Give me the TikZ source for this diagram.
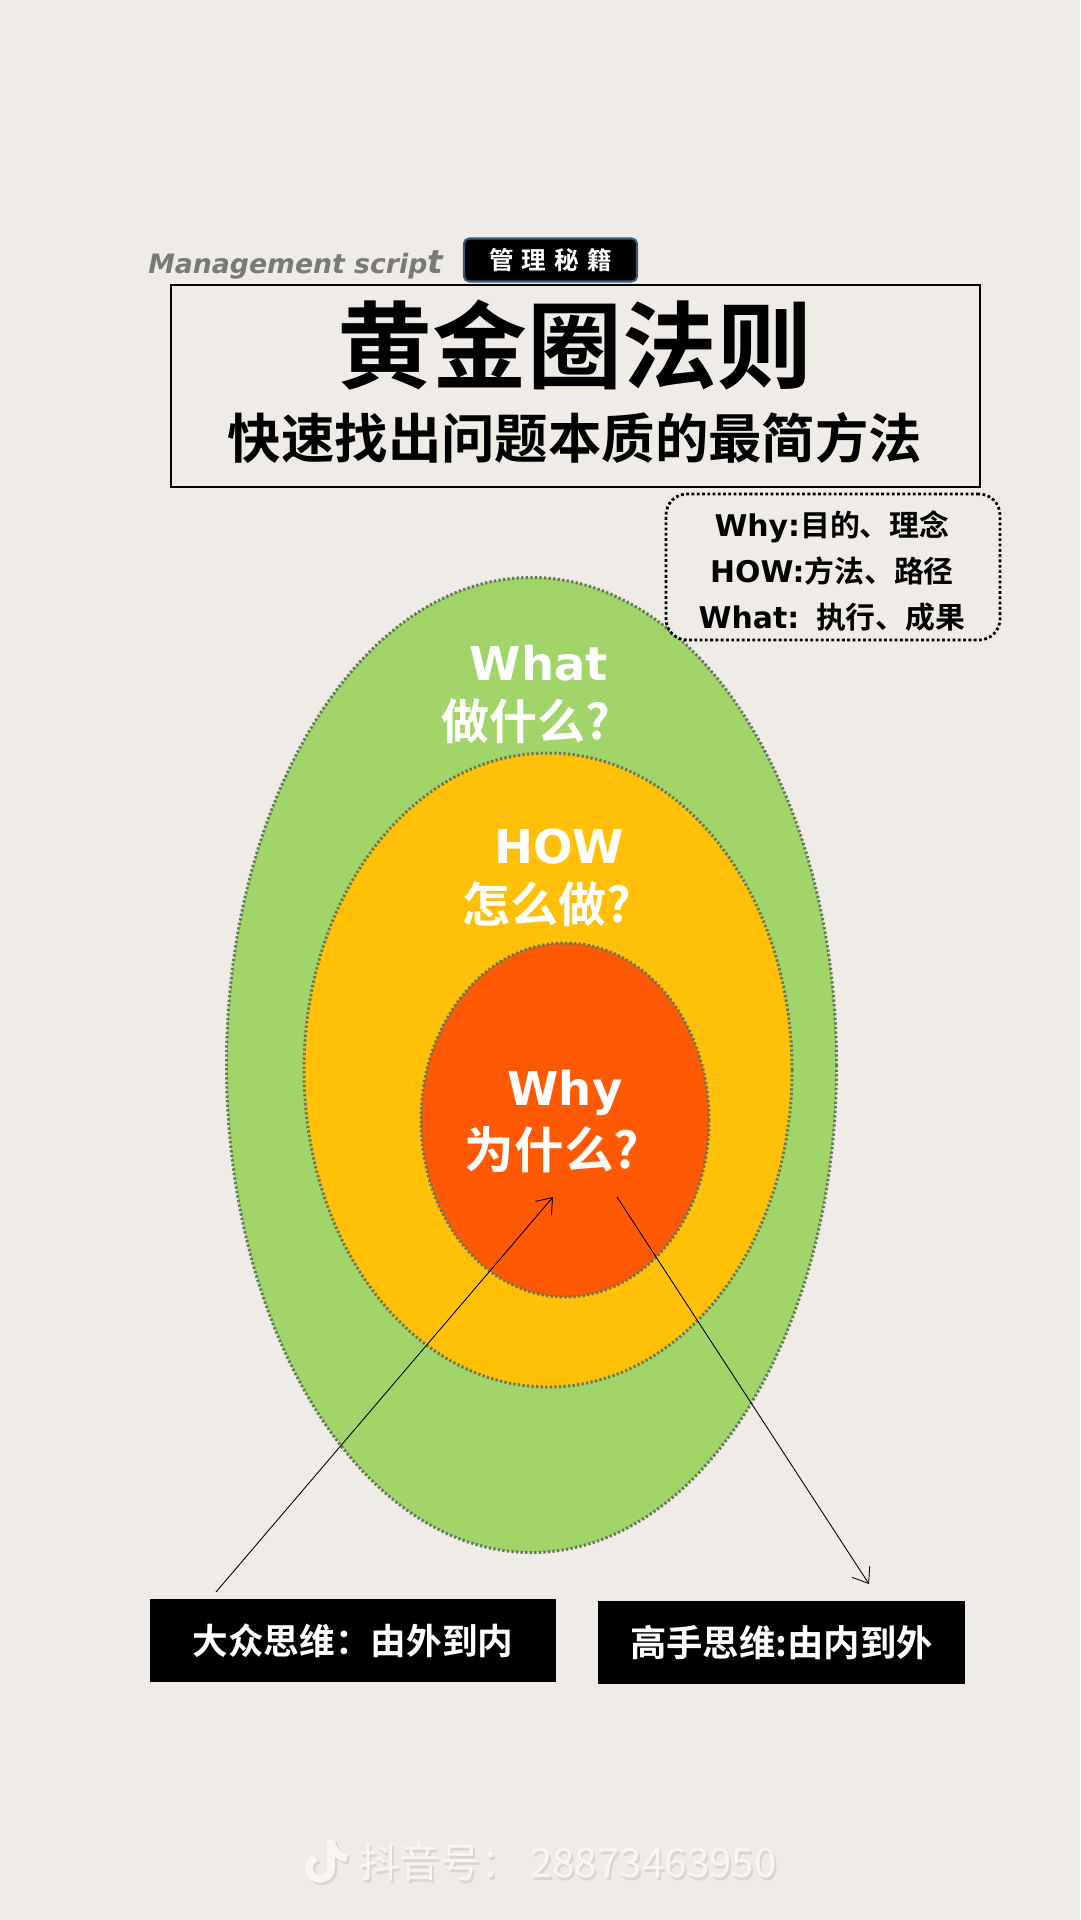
\documentclass[tikz,border=0pt]{standalone}
\usepackage{fontspec}
\usetikzlibrary{arrows.meta}
\setmainfont{DejaVu Sans}
\newfontfamily\cjk[BoldFont=* Bold]{Noto Sans CJK SC}
\definecolor{pagebg}{HTML}{EFEBE6}
\definecolor{outergreen}{HTML}{A1D469}
\definecolor{middleyellow}{HTML}{FFC007}
\definecolor{innerred}{HTML}{FF5A03}
\definecolor{ringgray}{HTML}{62785A}
\definecolor{badgeedge}{HTML}{3F5878}
\definecolor{markwhite}{HTML}{F8F6F3}
\definecolor{markshadow}{HTML}{D9D5D0}
\tikzset{
  ring/.style={draw=ringgray, line width=1.7pt, dash pattern=on 1.3pt off 1.3pt},
  ringword/.style={text=white, font=\fontsize{26.5}{30}\selectfont\bfseries},
  ringcn/.style={text=white, font=\fontsize{27.3}{30}\selectfont\cjk\bfseries},
  thinkbox/.style={fill=black, text=white, minimum height=83*0.02cm, inner sep=0pt, font=\fontsize{20.3}{24}\selectfont\cjk\bfseries},
  barb/.style={-{Straight Barb[length=8pt,width=12pt]}, line width=0.5pt}
}
\begin{document}
\begin{tikzpicture}[x=0.02cm, y=-0.02cm]
  \useasboundingbox (0,0) rectangle (1080,1920);
  \fill[pagebg] (0,0) rectangle (1080,1920);
  \filldraw[ring, fill=outergreen] (531.5,1065) ellipse (305 and 487.5);
  \filldraw[ring, fill=middleyellow] (548,1070) ellipse (244 and 317);
  \filldraw[ring, fill=innerred] (565,1120) ellipse (144 and 177);
  \node[ringword] (whatword) at (539,663) {What};
  \node[ringcn] (whatcn) at (526,721) {做什么?};
  \node[ringword] (howword) at (559,847) {HOW};
  \node[ringcn] (howcn) at (547,904) {怎么做?};
  \node[ringword] (whyword) at (565,1093) {Why};
  \node[ringcn, font=\fontsize{28.2}{30}\selectfont\cjk\bfseries] (whycn) at (552,1150) {为什么?};
  \node[draw=black, line width=1pt, minimum width=809*0.02cm, minimum height=202*0.02cm] (titlebox) at (575.5,386) {};
  \node[font=\fontsize{54}{60}\selectfont\cjk\bfseries] (maintitle) at (575,345) {黄金圈法则};
  \node[font=\fontsize{30.4}{36}\selectfont\cjk\bfseries] (subtitle) at (575,438) {快速找出问题本质的最简方法};
  \node[text=gray!95!black, anchor=west, inner sep=0pt, font=\fontsize{15.2}{18}\selectfont\bfseries\itshape] (brandname) at (148,265) {Management scrip{\fontsize{18.5}{18}\selectfont t}};
  \node[fill=black, draw=badgeedge, line width=1.2pt, rounded corners=3pt, minimum width=173*0.02cm, minimum height=43*0.02cm, text=white, font=\fontsize{14}{16}\selectfont\cjk\bfseries] (badge) at (550.5,260) {管\,\,理\,\,秘\,\,籍};
  \node[fill=pagebg, draw=black, line width=1.6pt, dash pattern=on 1.6pt off 1.4pt, rounded corners=12pt, minimum width=334*0.02cm, minimum height=146*0.02cm] (notebox) at (833,567) {};
  \node[align=center, font=\fontsize{17}{26.4}\selectfont\bfseries] (notetext) at (832,571) {Why:{\cjk 目的、理念}\\HOW:{\cjk 方法、路径}\\What:{\cjk ~\,\,执行、成果}};
  \node[thinkbox, minimum width=406*0.02cm] (publicbox) at (353,1640.5) {大众思维：由外到内};
  \node[thinkbox, minimum width=367*0.02cm, font=\fontsize{20.7}{24}\selectfont\cjk\bfseries] (expertbox) at (781.5,1642.5) {高手思维:由内到外};
  \coordinate (publicstart) at (216,1592);
  \coordinate (publicend) at (553,1197);
  \coordinate (expertstart) at (617,1197);
  \coordinate (expertend) at (869,1584);
  \draw[barb] (publicstart) -- (publicend);
  \draw[barb] (expertstart) -- (expertend);
  \draw[markshadow, line width=4.8pt] (333,1842) -- (333,1870) arc (0:250:11);
  \draw[markshadow, line width=4.8pt] (333,1842) .. controls (334,1852) and (340,1859) .. (349,1860);
  \draw[markwhite, line width=4.4pt] (331,1840) -- (331,1868) arc (0:250:11);
  \draw[markwhite, line width=4.4pt] (331,1840) .. controls (332,1850) and (338,1857) .. (347,1858);
  \node[text=markshadow, anchor=west, inner sep=0pt, font=\fontsize{23}{26}\selectfont\cjk] (markshade) at (361,1865) {抖音号： 28873463950};
  \node[text=markwhite, anchor=west, inner sep=0pt, font=\fontsize{23}{26}\selectfont\cjk] (marktext) at (359,1862) {抖音号： 28873463950};
\end{tikzpicture}
\end{document}
